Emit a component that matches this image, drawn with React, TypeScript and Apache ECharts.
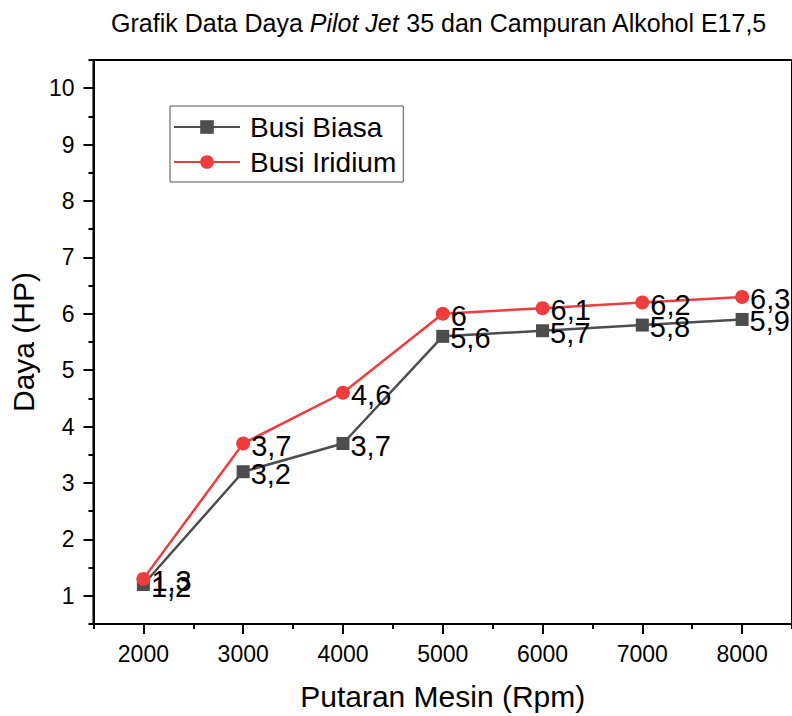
import React, { useEffect, useRef } from "react";
import * as echarts from "echarts";

const rpm = [2000, 3000, 4000, 5000, 6000, 7000, 8000];
const busiBiasa = [1.2, 3.2, 3.7, 5.6, 5.7, 5.8, 5.9];
const busiIridium = [1.3, 3.7, 4.6, 6, 6.1, 6.2, 6.3];
const xMajorTicks = [2000, 3000, 4000, 5000, 6000, 7000, 8000];
const xMinorTicks = [1500, 2500, 3500, 4500, 5500, 6500, 7500, 8500];
const yMajorTicks = [1, 2, 3, 4, 5, 6, 7, 8, 9, 10];
const yMinorTicks = [0.5, 1.5, 2.5, 3.5, 4.5, 5.5, 6.5, 7.5, 8.5, 9.5, 10.5];

const FONT = "'Liberation Sans', Arial, Helvetica, sans-serif";

export default function App() {
  const ref = useRef<HTMLDivElement>(null);
  useEffect(() => {
    if (!ref.current) return;
    const chart = echarts.init(ref.current, null, { renderer: "svg" });
    const fmt = (p: any) => String(p.value[1]).replace(".", ",");
    const label = {
      show: true,
      position: "right",
      distance: 1,
      offset: [0, 2],
      formatter: fmt,
      fontSize: 29,
      color: "#000",
      fontFamily: FONT,
    };
    const axisLine = { show: true, lineStyle: { color: "#000", width: 2 } };
    chart.setOption({
      animation: false,
      backgroundColor: "#fff",
      graphic: [
        {
          type: "text",
          x: 439,
          y: 10,
          style: {
            text: "{a|Grafik Data Daya }{i|Pilot Jet}{a| 35 dan Campuran Alkohol E17,5}",
            align: "center",
            verticalAlign: "top",
            rich: {
              a: { fontSize: 25, fontFamily: FONT, fill: "#000" },
              i: { fontSize: 25, fontFamily: FONT, fontStyle: "italic", fill: "#000" },
            },
          },
        },
      ],
      grid: {
        left: 92,
        right: -2,
        top: 60,
        bottom: 91,
        show: true,
        borderColor: "#000",
        borderWidth: 2,
      },
      legend: {
        left: 170,
        top: 106,
        orient: "vertical",
        itemWidth: 66,
        itemHeight: 17,
        itemGap: 7,
        padding: [7, 7, 6, 3],
        borderColor: "#555",
        borderWidth: 1,
        textStyle: { fontSize: 28, fontFamily: FONT, color: "#000", lineHeight: 28, padding: [0, 0, 0, 5] },
        data: ["Busi Biasa", "Busi Iridium"],
      },
      xAxis: [
        {
          type: "value",
          min: 1500,
          max: 8500,
          position: "bottom",
          axisLine,
          axisTick: { show: true, customValues: xMajorTicks, length: 10, lineStyle: { color: "#000", width: 2 } },
          axisLabel: {
            customValues: xMajorTicks,
            formatter: (v: number) => String(v),
            fontSize: 23,
            margin: 18,
            color: "#000",
            fontFamily: FONT,
          },
          splitLine: { show: false },
          name: "Putaran Mesin (Rpm)",
          nameLocation: "middle",
          nameGap: 57,
          nameTextStyle: { fontSize: 30, fontFamily: FONT, color: "#000" },
        },
        {
          type: "value",
          min: 1500,
          max: 8500,
          position: "bottom",
          axisLine: { show: false },
          axisTick: { show: true, customValues: xMinorTicks, length: 5, lineStyle: { color: "#000", width: 2 } },
          axisLabel: { show: false },
          splitLine: { show: false },
        },
      ],
      yAxis: [
        {
          type: "value",
          min: 0.5,
          max: 10.5,
          position: "left",
          axisLine,
          axisTick: { show: true, customValues: yMajorTicks, length: 10, lineStyle: { color: "#000", width: 2 } },
          axisLabel: {
            customValues: yMajorTicks,
            formatter: (v: number) => String(v),
            fontSize: 23,
            margin: 19,
            color: "#000",
            fontFamily: FONT,
          },
          splitLine: { show: false },
          name: "Daya (HP)",
          nameLocation: "middle",
          nameGap: 54,
          nameTextStyle: { fontSize: 30, fontFamily: FONT, color: "#000" },
        },
        {
          type: "value",
          min: 0.5,
          max: 10.5,
          position: "left",
          axisLine: { show: false },
          axisTick: { show: true, customValues: yMinorTicks, length: 5, lineStyle: { color: "#000", width: 2 } },
          axisLabel: { show: false },
          splitLine: { show: false },
        },
      ],
      series: [
        {
          name: "Busi Biasa",
          type: "line",
          xAxisIndex: 0,
          yAxisIndex: 0,
          data: rpm.map((x, i) => [x, busiBiasa[i]]),
          symbol: "rect",
          symbolSize: 13,
          lineStyle: { color: "#4d4d4d", width: 2.5 },
          itemStyle: { color: "#4d4d4d" },
          label,
          z: 2,
        },
        {
          name: "Busi Iridium",
          type: "line",
          xAxisIndex: 0,
          yAxisIndex: 0,
          data: rpm.map((x, i) => [x, busiIridium[i]]),
          symbol: "circle",
          symbolSize: 14,
          lineStyle: { color: "#ef3d3d", width: 2.5 },
          itemStyle: { color: "#ef3d3d" },
          label,
          z: 3,
        },
      ],
    });
    return () => chart.dispose();
  }, []);
  return <div ref={ref} style={{ position: "fixed", left: 0, top: 0, width: 792, height: 716 }} />;
}
